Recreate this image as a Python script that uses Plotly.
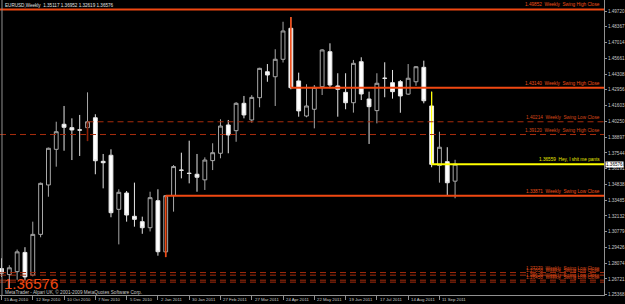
import plotly.graph_objects as go

# ---------------- data ----------------
week_idx = list(range(59))  # weekly bars, 15 Aug 2010 .. 25 Sep 2011
opens = [1.2762, 1.2710, 1.2735, 1.2900, 1.2705, 1.3055, 1.3479, 1.3785, 1.4000, 1.3971,
         1.3952, 1.3971, 1.4056, 1.3682, 1.3734, 1.3270, 1.3410, 1.3210, 1.3164, 1.3112,
         1.3344, 1.2905, 1.3389, 1.3607, 1.3580, 1.3571, 1.3523, 1.3688, 1.3751, 1.3994,
         1.3945, 1.4180, 1.4037, 1.4228, 1.4451, 1.4408, 1.4558, 1.4824, 1.4372, 1.4071,
         1.4129, 1.4322, 1.4623, 1.4329, 1.4274, 1.4185, 1.4537, 1.4217, 1.4117, 1.4396,
         1.4357, 1.4366, 1.4259, 1.4365, 1.4489, 1.4157, 1.3646, 1.3679, 1.35117]
highs = [1.2850, 1.2790, 1.2925, 1.2945, 1.3164, 1.3500, 1.3800, 1.4022, 1.4157, 1.4051,
         1.4080, 1.4274, 1.4086, 1.3745, 1.3785, 1.3442, 1.3427, 1.3499, 1.3207, 1.3421,
         1.3442, 1.3391, 1.3650, 1.3756, 1.3859, 1.3745, 1.3716, 1.3837, 1.4043, 1.4037,
         1.4190, 1.4243, 1.4250, 1.4485, 1.4517, 1.4644, 1.4880, 1.4920, 1.4443, 1.4343,
         1.4337, 1.4645, 1.4695, 1.4438, 1.4438, 1.4552, 1.4575, 1.4280, 1.4438, 1.4532,
         1.4466, 1.4380, 1.4517, 1.4500, 1.4546, 1.4280, 1.3936, 1.3803, 1.36952]
lows = [1.2690, 1.2590, 1.2665, 1.2660, 1.2695, 1.3030, 1.3378, 1.3636, 1.3773, 1.3693,
        1.3728, 1.3856, 1.3571, 1.3450, 1.3202, 1.2969, 1.3164, 1.3121, 1.3060, 1.3080,
        1.2872, 1.2860, 1.3250, 1.3536, 1.3493, 1.3421, 1.3436, 1.3607, 1.3708, 1.3751,
        1.3850, 1.4051, 1.4014, 1.4146, 1.4365, 1.4157, 1.4530, 1.4300, 1.4065, 1.4060,
        1.3965, 1.4251, 1.4309, 1.4065, 1.4129, 1.4100, 1.4208, 1.3831, 1.4008, 1.4232,
        1.4220, 1.4099, 1.4251, 1.4330, 1.4180, 1.3631, 1.3499, 1.3393, 1.3365]
closes = [1.2722, 1.2768, 1.2905, 1.2690, 1.3055, 1.3493, 1.3794, 1.3936, 1.3974, 1.3951,
          1.3950, 1.40214, 1.3687, 1.3670, 1.3241, 1.3416, 1.3221, 1.3184, 1.3112, 1.3370,
          1.2906, 1.33871, 1.3637, 1.3605, 1.3578, 1.3545, 1.3693, 1.3756, 1.3985, 1.3908,
          1.4180, 1.4080, 1.4231, 1.4480, 1.4423, 1.4558, 1.4801, 1.43140, 1.4115, 1.4157,
          1.4317, 1.4638, 1.4337, 1.4300, 1.4185, 1.4523, 1.4260, 1.4151, 1.4352, 1.4394,
          1.4280, 1.4243, 1.4395, 1.4494, 1.4202, 1.36559, 1.3803, 1.3498, 1.36576]

tick_idx = [0, 4, 8, 12, 16, 20, 24, 28, 32, 36, 40, 44, 48, 52, 56]
tick_dates = ["15 Aug 2010", "12 Sep 2010", "10 Oct 2010", "7 Nov 2010", "5 Dec 2010",
              "2 Jan 2011", "30 Jan 2011", "27 Feb 2011", "27 Mar 2011", "24 Apr 2011",
              "22 May 2011", "19 Jun 2011", "17 Jul 2011", "14 Aug 2011", "11 Sep 2011"]

price_ticks = [1.49720, 1.48367, 1.47014, 1.45661, 1.44308, 1.42956, 1.41603, 1.40250,
               1.38897, 1.37544, 1.36191, 1.34838, 1.33485, 1.32132, 1.30779, 1.29426,
               1.28074, 1.26721, 1.25368]

levels = [1.49852, 1.43140, 1.40214, 1.39120, 1.36559, 1.33871, 1.27270, 1.27050, 1.26620, 1.26450]
level_start = [None, 37, 11, None, 55, 21, None, None, None, None]
level_names = ["Weekly  Swing High Close", "Weekly  Swing High Close", "Weekly  Swing Low Close",
               "Weekly  Swing High Close", "Hey, I shit me pants", "Weekly  Swing Low Close",
               "Weekly  Swing Low Close", "Weekly  Swing Low Close", "Weekly  Swing Low Close",
               "Weekly  Swing Low Close"]
level_kind = ["solid", "solid", "dash", "dash", "yellow", "solid", "dash", "dash", "dash", "dash"]

marked_bars = [11, 21, 37, 55]          # bars whose wick is painted by the indicator
marked_kind = ["dash", "solid", "solid", "yellow"]

symbol_title = "EURUSD,Weekly  1.35117 1.36952 1.32619 1.36576"
big_price = "1.36576"
copyright_txt = "MetaTrader - Alpari UK, \u00a9 2001-2009 MetaQuotes Software Corp."

# ---------------- styles ----------------
STY = {
    "solid": dict(color="#f04812", width=2, dash="solid", text="#f05018"),
    "dash": dict(color="#a82c0c", width=1, dash="6px,4px", text="#d84818"),
    "yellow": dict(color="#ffff00", width=2, dash="solid", text="#e8e800"),
}
FONT = "Arial"
X_MIN, X_MAX = -0.191, 77.04
Y_MIN, Y_MAX = 1.25346, 1.50667

fig = go.Figure()

fig.add_trace(go.Candlestick(
    x=week_idx, open=opens, high=highs, low=lows, close=closes,
    increasing=dict(line=dict(color="#a8a8a8", width=1), fillcolor="#000000"),
    decreasing=dict(line=dict(color="#e6e6e6", width=1), fillcolor="#ffffff"),
    whiskerwidth=0, hoverinfo="skip", showlegend=False,
))

# painted wick segments (indicator marks from the extreme to the close)
for b, k in zip(marked_bars, marked_kind):
    ys = [closes[b], lows[b]] if closes[b] > opens[b] else [highs[b], closes[b]]
    s = STY[k]
    fig.add_trace(go.Scatter(x=[b, b], y=ys, mode="lines",
                             line=dict(color=s["color"] if k != "dash" else "#8a2008",
                                       width=1.6 if k != "yellow" else 1.2),
                             hoverinfo="skip", showlegend=False))

shapes = []
annotations = []
for j, (lv, st, nm, k) in enumerate(zip(levels, level_start, level_names, level_kind)):
    s = STY[k]
    shapes.append(dict(type="line", xref="x", yref="y",
                       x0=(st if st is not None else X_MIN), x1=X_MAX, y0=lv, y1=lv,
                       line=dict(color=s["color"], width=s["width"], dash=s["dash"]),
                       layer="above"))
    annotations.append(dict(xref="paper", yref="y", x=0.9975, y=lv, xanchor="right",
                            yanchor="bottom", yshift=0, showarrow=False,
                            text=f"{lv:.5f}  {nm}",
                            font=dict(family=FONT, size=4.7, color=s["text"])))

# left frame border
shapes.append(dict(type="line", xref="paper", yref="paper", x0=2 / 607, x1=2 / 607, y0=0, y1=1,
                   line=dict(color="#909090", width=1)))

# date labels
for ti, td in zip(tick_idx, tick_dates):
    annotations.append(dict(xref="x", yref="paper", x=ti, y=-4.3 / 295, xanchor="left",
                            yanchor="middle", xshift=1, showarrow=False, text=td,
                            font=dict(family=FONT, size=4.3, color="#c8c8c8")))

# title
annotations.append(dict(xref="paper", yref="paper", x=3 / 607, y=1 - 5.3 / 295, xanchor="left",
                        yanchor="middle", showarrow=False, text=symbol_title,
                        font=dict(family=FONT, size=4.6, color="#e0e0e0")))
# big price
annotations.append(dict(xref="paper", yref="paper", x=2 / 607, y=11.5 / 295, xanchor="left",
                        yanchor="middle", showarrow=False, text=big_price,
                        font=dict(family=FONT, size=15, color="#f04812")))
# copyright
annotations.append(dict(xref="paper", yref="paper", x=3 / 607, y=3.0 / 295, xanchor="left",
                        yanchor="middle", showarrow=False, text=copyright_txt,
                        font=dict(family=FONT, size=4.7, color="#c8c8c8")))
# current price marker on axis
annotations.append(dict(xref="paper", yref="y", x=1, y=closes[-1], xanchor="left",
                        yanchor="middle", xshift=1, showarrow=False, text=big_price,
                        bgcolor="#ffffff", borderpad=0,
                        font=dict(family=FONT, size=4.6, color="#000000")))

fig.update_layout(
    width=625, height=304,
    margin=dict(l=0, r=18, t=0, b=9),
    paper_bgcolor="#000000", plot_bgcolor="#000000",
    showlegend=False,
    shapes=shapes, annotations=annotations,
    xaxis=dict(range=[X_MIN, X_MAX], rangeslider=dict(visible=False), showgrid=False,
               zeroline=False, tickvals=tick_idx, showticklabels=False, ticks="outside",
               ticklen=4, tickcolor="#909090", showline=True, linecolor="#909090",
               linewidth=1, fixedrange=True),
    yaxis=dict(range=[Y_MIN, Y_MAX], side="right", showgrid=False, zeroline=False,
               tickvals=price_ticks, ticktext=[f"{v:.5f}" for v in price_ticks],
               ticks="outside", ticklen=2, tickcolor="#909090",
               tickfont=dict(family=FONT, size=4.6, color="#c8c8c8"),
               showline=True, linecolor="#909090", linewidth=1, fixedrange=True),
)

fig.write_html("out.html")
